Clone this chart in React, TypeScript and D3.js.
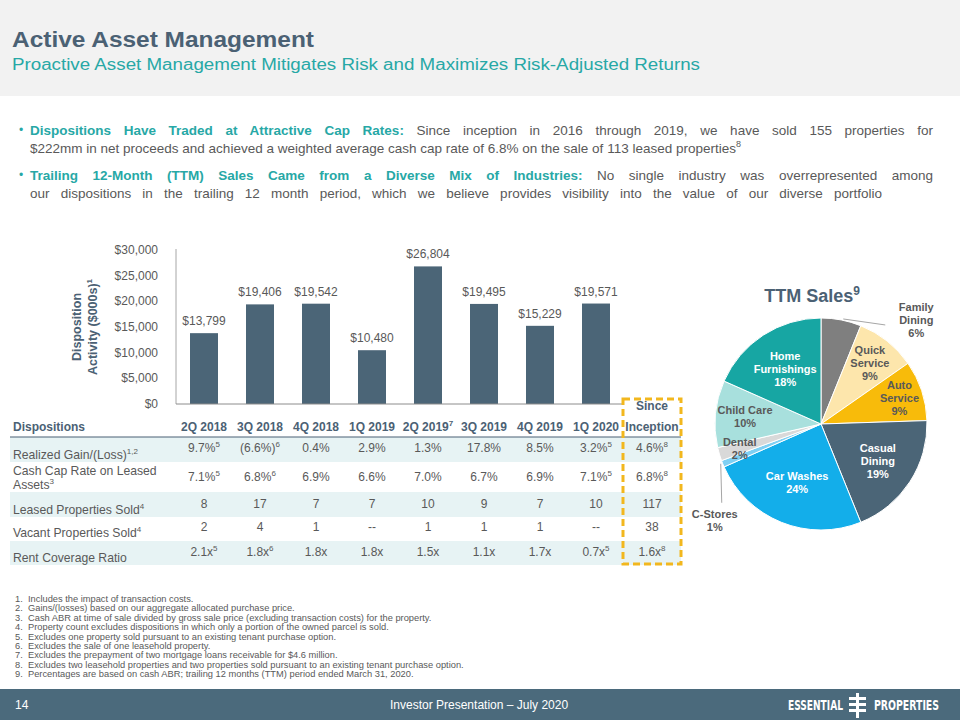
import React from "react";
import * as d3 from "d3";

// ---------- data ----------
const quarters = ["2Q 2018", "3Q 2018", "4Q 2018", "1Q 2019", "2Q 2019", "3Q 2019", "4Q 2019", "1Q 2020"];
const quarterNotes = ["", "", "", "", "7", "", "", ""];
const dispositionValues = [13799, 19406, 19542, 10480, 26804, 19495, 15229, 19571];
const yTicks = [0, 5000, 10000, 15000, 20000, 25000, 30000];
const sinceInception = ["Since", "Inception"];

const rowLabels = [["Realized Gain/(Loss)"], ["Cash Cap Rate on Leased", "Assets"], ["Leased Properties Sold"], ["Vacant Properties Sold"], ["Rent Coverage Ratio"]];
const rowLabelNotes = ["1,2", "3", "4", "4", ""];
const realizedGain = ["9.7%", "(6.6%)", "0.4%", "2.9%", "1.3%", "17.8%", "8.5%", "3.2%", "4.6%"];
const realizedGainNotes = ["5", "6", "", "", "", "", "", "5", "8"];
const cashCapRate = ["7.1%", "6.8%", "6.9%", "6.6%", "7.0%", "6.7%", "6.9%", "7.1%", "6.8%"];
const cashCapNotes = ["5", "6", "", "", "", "", "", "5", "8"];
const leasedSold = ["8", "17", "7", "7", "10", "9", "7", "10", "117"];
const vacantSold = ["2", "4", "1", "--", "1", "1", "1", "--", "38"];
const rentCoverage = ["2.1x", "1.8x", "1.8x", "1.8x", "1.5x", "1.1x", "1.7x", "0.7x", "1.6x"];
const rentCoverageNotes = ["5", "6", "", "", "", "", "", "5", "8"];

const pieNames = ["Family\nDining", "Quick\nService", "Auto\nService", "Casual\nDining", "Car Washes", "C-Stores", "Dental", "Child Care", "Home\nFurnishings"];
const pieValues = [6, 9, 9, 19, 24, 1, 2, 10, 18];

const footnotes = [
  "Includes the impact of transaction costs.",
  "Gains/(losses) based on our aggregate allocated purchase price.",
  "Cash ABR at time of sale divided by gross sale price (excluding transaction costs) for the property.",
  "Property count excludes dispositions in which only a portion of the owned parcel is sold.",
  "Excludes one property sold pursuant to an existing tenant purchase option.",
  "Excludes the sale of one leasehold property.",
  "Excludes the prepayment of two mortgage loans receivable for $4.6 million.",
  "Excludes two leasehold properties and two properties sold pursuant to an existing tenant purchase option.",
  "Percentages are based on cash ABR; trailing 12 months (TTM) period ended March 31, 2020.",
];

// ---------- styles ----------
const FONT = "'Liberation Sans', Arial, Helvetica, sans-serif";
const NARROW = "'Liberation Sans Narrow', 'DejaVu Sans Condensed', 'Liberation Sans', sans-serif";
const SLATE = "#4b6174";
const TEAL = "#27a8a6";
const GRAY = "#595959";
const BAR = "#4b6577";
const FOOTER = "#4b6a7c";
const ROWFILL = "#e7f3f4";
const GOLD = "#f2b71e";
const sliceStyle: Record<string, { fill: string; text: string; r: number }> = {
  "Family\nDining": { fill: "#7f7f7f", text: GRAY, r: 0 },
  "Quick\nService": { fill: "#fde6ac", text: GRAY, r: 0.74 },
  "Auto\nService": { fill: "#f8bb0a", text: GRAY, r: 0.78 },
  "Casual\nDining": { fill: "#4b6577", text: "#ffffff", r: 0.64 },
  "Car Washes": { fill: "#13aeea", text: "#ffffff", r: 0.6 },
  "C-Stores": { fill: "#7fd0f3", text: GRAY, r: 0 },
  "Dental": { fill: "#d9d9d9", text: GRAY, r: 0.8 },
  "Child Care": { fill: "#a8e0dd", text: GRAY, r: 0.72 },
  "Home\nFurnishings": { fill: "#17a6a3", text: "#ffffff", r: 0.62 },
};

function Sup({ n, size = 8, dy = -5 }: { n: string; size?: number; dy?: number }) {
  if (!n) return null;
  return (
    <tspan fontSize={size} dy={dy}>
      {n}
    </tspan>
  );
}

// text line spread to a given width by widening the spaces between words
function Justified({ x, y, width, children }: { x: number; y: number; width: number; children: React.ReactNode }) {
  const ref = React.useRef<SVGTextElement>(null);
  const [ws, setWs] = React.useState(0);
  React.useLayoutEffect(() => {
    const el = ref.current;
    if (!el) return;
    const natural = el.getComputedTextLength();
    const spaces = (el.textContent || "").split(" ").length - 1;
    if (spaces > 0) setWs(Math.max(0, (width - natural) / spaces));
  }, [width]);
  return (
    <text ref={ref} x={x} y={y} style={{ wordSpacing: `${ws}px` }}>
      {children}
    </text>
  );
}

export default function App() {
  React.useEffect(() => {
    document.body.style.margin = "0";
  }, []);

  // bar chart scales
  const x = d3.scaleBand<string>().domain(quarters).range([176, 624]).paddingInner(0.5).paddingOuter(0.25);
  const y = d3.scaleLinear().domain([0, 30000]).range([404, 250]);
  const fmt = d3.format("$,");
  const colX = (i: number) => {
    const last = quarters.length - 1;
    if (i <= last) return (x(quarters[i]) as number) + x.bandwidth() / 2;
    return (x(quarters[last]) as number) + x.bandwidth() / 2 + x.step() * (i - last);
  };

  // table layout
  const headerY = 437;
  const rowHeights = [25, 30, 25, 24, 24];
  const rowTops = rowHeights.map((_, i) => headerY + d3.sum(rowHeights.slice(0, i)));
  const tableRows = [
    { values: realizedGain, notes: realizedGainNotes, vOff: 15, lOff: [22] },
    { values: cashCapRate, notes: cashCapNotes, vOff: 19, lOff: [13, 27] },
    { values: leasedSold, notes: [] as string[], vOff: 16, lOff: [22] },
    { values: vacantSold, notes: [] as string[], vOff: 14, lOff: [20] },
    { values: rentCoverage, notes: rentCoverageNotes, vOff: 15, lOff: [21] },
  ];
  const inceptionX = colX(quarters.length);

  // pie
  const R = 106;
  const cx = 821;
  const cy = 424;
  const arcs = d3.pie<number>().sort(null).value((d) => d)(pieValues);
  const arcGen = d3.arc<d3.PieArcDatum<number>>().innerRadius(0).outerRadius(R);
  const polar = (a: number, r: number): [number, number] => [Math.sin(a) * r, -Math.cos(a) * r];

  const bulletX = 30;

  return (
    <svg width={960} height={720} style={{ display: "block", position: "absolute", left: 0, top: 0 }} fontFamily={FONT}>
      <rect x={0} y={0} width={960} height={720} fill="#ffffff" />
      {/* header */}
      <rect x={0} y={0} width={960} height={96} fill="#f2f2f2" />
      <text x={12} y={47} fontSize={22} fontWeight="bold" fill={SLATE} textLength={302} lengthAdjust="spacingAndGlyphs">
        Active Asset Management
      </text>
      <text x={12} y={70} fontSize={16} fill={TEAL} textLength={688} lengthAdjust="spacingAndGlyphs">
        Proactive Asset Management Mitigates Risk and Maximizes Risk-Adjusted Returns
      </text>

      {/* bullets */}
      <g fontSize={13.5} fill={GRAY}>
        <text x={19} y={134} fill={TEAL} fontSize={12}>•</text>
        <Justified x={bulletX} y={135} width={903}>
          <tspan fill={TEAL} fontWeight="bold">Dispositions Have Traded at Attractive Cap Rates:</tspan>
          <tspan> Since inception in 2016 through 2019, we have sold 155 properties for</tspan>
        </Justified>
        <text x={bulletX} y={153}>
          $222mm in net proceeds and achieved a weighted average cash cap rate of 6.8% on the sale of 113 leased properties
          <Sup n="8" size={9} dy={-6} />
        </text>
        <text x={19} y={179} fill={TEAL} fontSize={12}>•</text>
        <Justified x={bulletX} y={180} width={903}>
          <tspan fill={TEAL} fontWeight="bold">Trailing 12-Month (TTM) Sales Came from a Diverse Mix of Industries:</tspan>
          <tspan> No single industry was overrepresented among</tspan>
        </Justified>
        <Justified x={bulletX} y={198} width={852}>
          our dispositions in the trailing 12 month period, which we believe provides visibility into the value of our diverse portfolio
        </Justified>
      </g>

      {/* y axis title */}
      <g transform="translate(0,327)" fill={SLATE} fontWeight="bold" fontSize={12.5} textAnchor="middle">
        <text transform="translate(81,0) rotate(-90)">Disposition</text>
        <text transform="translate(97,0) rotate(-90)">
          Activity  ($000s)
          <Sup n="1" size={8} dy={-5} />
        </text>
      </g>

      {/* y ticks */}
      <g fontSize={12} fill={GRAY} textAnchor="end">
        {yTicks.map((t) => (
          <text key={t} x={158} y={y(t) + 4}>
            {fmt(t)}
          </text>
        ))}
      </g>
      <line x1={176} x2={176} y1={y(30000) - 1} y2={y(0)} stroke="#a6a6a6" strokeWidth={1} />

      {/* bars */}
      {dispositionValues.map((v, i) => (
        <g key={quarters[i]}>
          <rect x={x(quarters[i])} y={y(v)} width={x.bandwidth()} height={y(0) - y(v)} fill={BAR} />
          <text x={colX(i)} y={y(v) - 8} fontSize={12} fill={GRAY} textAnchor="middle">
            {fmt(v)}
          </text>
        </g>
      ))}
      <line x1={176} x2={624} y1={y(0)} y2={y(0)} stroke="#8c8c8c" strokeWidth={1} />

      {/* table shading */}
      {rowTops.map((t, i) =>
        i % 2 === 0 ? <rect key={i} x={10} y={t} width={inceptionX + 29 - 10} height={rowHeights[i]} fill={ROWFILL} /> : null
      )}

      {/* table header */}
      <g fontSize={12} fontWeight="bold" fill={SLATE}>
        <text x={13} y={431}>Dispositions</text>
        {quarters.map((q, i) => (
          <text key={q} x={colX(i)} y={431} textAnchor="middle">
            {q}
            <Sup n={quarterNotes[i]} size={8} dy={-5} />
          </text>
        ))}
        <text x={inceptionX} y={410} textAnchor="middle">{sinceInception[0]}</text>
        <text x={inceptionX} y={431} textAnchor="middle">{sinceInception[1]}</text>
      </g>
      <line x1={10} x2={inceptionX + 29} y1={headerY} y2={headerY} stroke={SLATE} strokeWidth={1.2} />

      {/* table rows */}
      {tableRows.map((row, ri) => (
        <g key={ri} fill={GRAY}>
          {rowLabels[ri].map((l, li) => (
            <text key={li} x={13} y={rowTops[ri] + row.lOff[li]} fontSize={12.2}>
              {l}
              {li === rowLabels[ri].length - 1 ? <Sup n={rowLabelNotes[ri]} size={8} dy={-5} /> : null}
            </text>
          ))}
          {row.values.map((v, ci) => (
            <text key={ci} x={colX(ci)} y={rowTops[ri] + row.vOff} fontSize={12} textAnchor="middle">
              {v}
              <Sup n={row.notes[ci] || ""} size={8} dy={-5} />
            </text>
          ))}
        </g>
      ))}

      {/* dashed box */}
      <rect x={inceptionX - 29} y={399} width={58} height={165} fill="none" stroke={GOLD} strokeWidth={3} strokeDasharray="7 4" />

      {/* pie */}
      <text x={812} y={302} fontSize={18} fontWeight="bold" fill={SLATE} textAnchor="middle">
        TTM Sales
        <Sup n="9" size={12} dy={-7} />
      </text>
      <g transform={`translate(${cx},${cy})`}>
        {arcs.map((a, i) => (
          <path key={i} d={arcGen(a) || ""} fill={sliceStyle[pieNames[i]].fill} stroke="#ffffff" strokeWidth={1} />
        ))}
        {arcs.map((a, i) => {
          const name = pieNames[i];
          const st = sliceStyle[name];
          const mid = (a.startAngle + a.endAngle) / 2;
          const lines = [...name.split("\n"), `${pieValues[i]}%`];
          const lh = 13;
          let lx: number, ly: number;
          let leader: [number, number, number, number] | null = null;
          if (st.r > 0) {
            [lx, ly] = polar(mid, st.r * R);
          } else {
            const [ex, ey] = polar(mid, R);
            if (ex > 0) {
              lx = ex + 75;
              ly = ey;
              leader = [ex + 2, ey - 1, lx - 31, ly + 5];
            } else {
              lx = ex - 8;
              ly = ey + 57;
              leader = [ex - 2, ey, ex - 1, ly - 18];
            }
          }
          const y0 = ly - ((lines.length - 1) * lh) / 2 + 4;
          return (
            <g key={"l" + i}>
              {leader ? (
                <line x1={leader[0]} y1={leader[1]} x2={leader[2]} y2={leader[3]} stroke="#a6a6a6" strokeWidth={1} />
              ) : null}
              <text fontSize={11} fontWeight="bold" fill={st.text} textAnchor="middle">
                {lines.map((t, k) => (
                  <tspan key={k} x={lx} y={y0 + k * lh}>
                    {t}
                  </tspan>
                ))}
              </text>
            </g>
          );
        })}
      </g>

      {/* footnotes */}
      <g fontSize={9.3} fill={GRAY}>
        {footnotes.map((f, i) => (
          <g key={i}>
            <text x={15} y={602 + i * 9.4}>{`${i + 1}.`}</text>
            <text x={28} y={602 + i * 9.4}>{f}</text>
          </g>
        ))}
      </g>

      {/* footer */}
      <rect x={0} y={689} width={960} height={31} fill={FOOTER} />
      <text x={15} y={709} fontSize={12} fill="#ffffff">14</text>
      <text x={390} y={709} fontSize={12} fill="#ffffff">
        Investor Presentation – July 2020
      </text>
      <g fill="#ffffff" fontFamily={NARROW} fontWeight="bold" fontSize={14}>
        <text x={788} y={710} textLength={55} lengthAdjust="spacingAndGlyphs">ESSENTIAL</text>
        <text x={874} y={710} textLength={65} lengthAdjust="spacingAndGlyphs">PROPERTIES</text>
      </g>
      <g fill="#ffffff">
        <rect x={856} y={693} width={3} height={25} />
        <rect x={849} y={697} width={17} height={3} />
        <rect x={849} y={703} width={17} height={3} />
        <rect x={849} y={709} width={17} height={3} />
      </g>
    </svg>
  );
}
